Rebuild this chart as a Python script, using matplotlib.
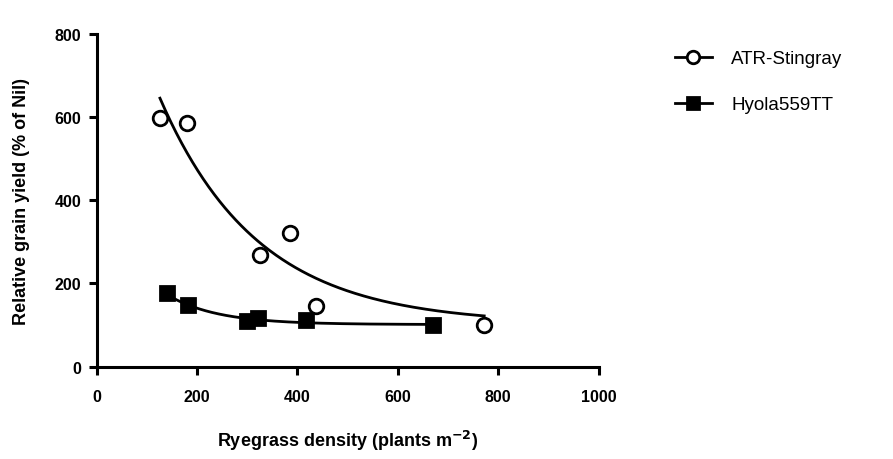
import numpy as np
import matplotlib
matplotlib.use("Agg")
import matplotlib.pyplot as plt
from matplotlib.lines import Line2D

# Data
atr_x = [126, 179, 325, 385, 437, 772]
atr_y = [597, 585, 268, 322, 146, 100]
hyola_x = [141, 181, 299, 321, 417, 670]
hyola_y = [176, 148, 109, 117, 113, 100]

# One-phase exponential decay fit parameters (Y0, plateau, K)
atr_fit = (1138, 102, 0.00513)
hyola_fit = (397, 101, 0.0101)

series_labels = ["ATR-Stingray", "Hyola559TT"]
x_ticks = [0, 200, 400, 600, 800, 1000]
y_ticks = [0, 200, 400, 600, 800]

plt.rcParams['font.family'] = ['Liberation Sans', 'DejaVu Sans']

fig = plt.figure(figsize=(8.93, 4.60), dpi=100)
ax = fig.add_axes([0.1083, 0.2009, 0.5621, 0.7239])


def decay(x, p):
    y0, plateau, k = p
    return plateau + (y0 - plateau) * np.exp(-k * x)


for xs, ys, p, mk, fc, ms in [
    (atr_x, atr_y, atr_fit, 'o', 'white', 10.5),
    (hyola_x, hyola_y, hyola_fit, 's', 'black', 9.5),
]:
    xx = np.linspace(min(xs), max(xs), 300)
    ax.plot(xx, decay(xx, p), color='black', lw=2.0, zorder=2)
    ax.plot(xs, ys, linestyle='none', marker=mk, markersize=ms,
            markerfacecolor=fc, markeredgecolor='black', markeredgewidth=2.0,
            zorder=3, clip_on=False)

ax.set_xlim(0, 1000)
ax.set_ylim(0, 800)
ax.set_xticks(x_ticks)
ax.set_yticks(y_ticks)
ax.set_xticklabels([str(t) for t in x_ticks], fontsize=11.5, fontweight='bold')
ax.set_yticklabels([str(t) for t in y_ticks], fontsize=11.5, fontweight='bold')

for s in ['top', 'right']:
    ax.spines[s].set_visible(False)
for s in ['left', 'bottom']:
    ax.spines[s].set_linewidth(2.2)
ax.tick_params(axis='both', width=2.2, length=6, direction='out')
ax.tick_params(axis='x', pad=10)
ax.tick_params(axis='y', pad=5)

ax.set_xlabel('Ryegrass density (plants m$^{\\mathbf{-2}}$)', fontsize=13,
              fontweight='bold', labelpad=17)
ax.set_ylabel('Relative grain yield (% of Nil)', fontsize=13,
              fontweight='bold', labelpad=18)

handles = [
    Line2D([], [], color='black', lw=2.0, marker='o', markersize=9,
           markerfacecolor='white', markeredgewidth=2.0),
    Line2D([], [], color='black', lw=2.0, marker='s', markersize=9,
           markerfacecolor='black', markeredgewidth=2.0),
]
fig.legend(handles, series_labels, loc='upper left',
           bbox_to_anchor=(675 / 893, 1 - 51 / 460), frameon=False,
           fontsize=13.5, handlelength=1.95, handletextpad=1.05,
           labelspacing=1.55, borderpad=0, borderaxespad=0)

fig.savefig('out.png', dpi=100)
